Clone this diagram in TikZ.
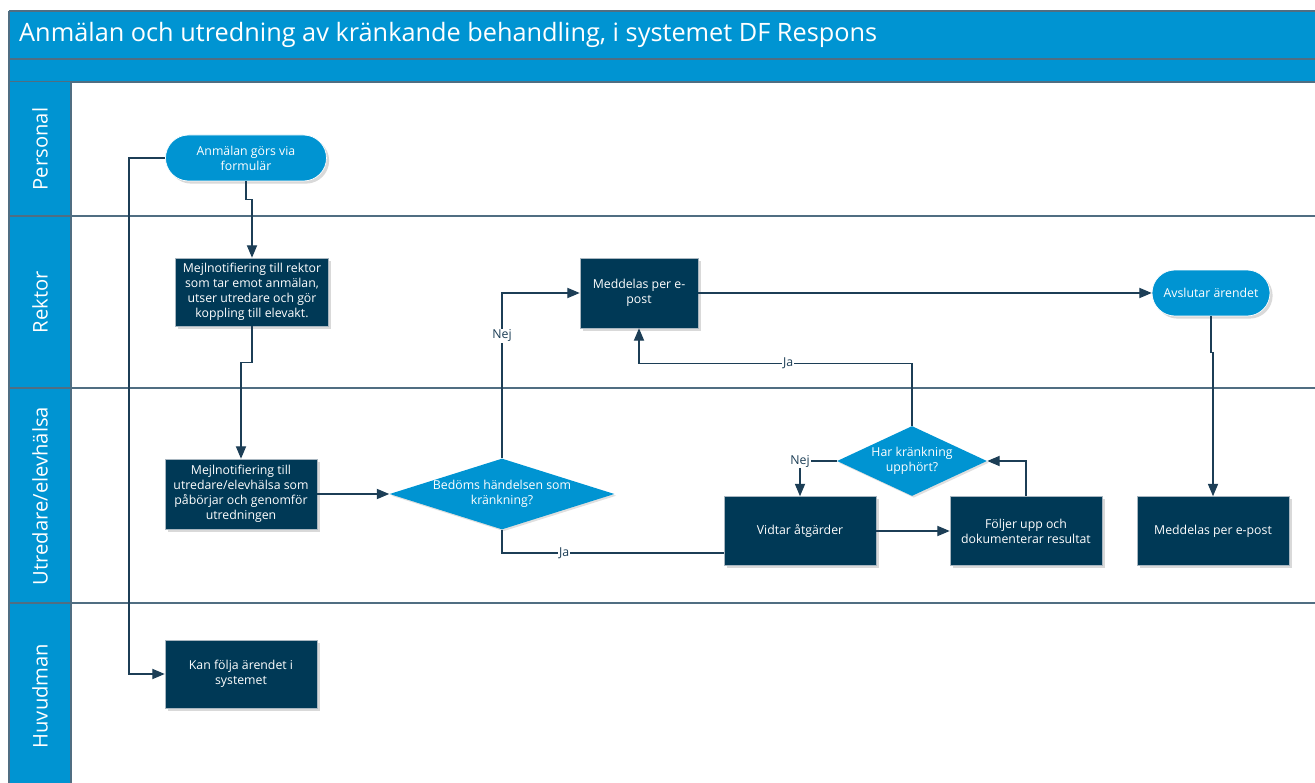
\documentclass[tikz,border=0pt]{standalone}
\usepackage{fontspec}
\setmainfont{Open Sans}
\usepackage{xcolor}
\usepackage{tikz}
\usetikzlibrary{shadows}
\usetikzlibrary{positioning}
\usetikzlibrary{arrows,shapes}
\usetikzlibrary{calc}
\definecolor{laneblue}{RGB}{0,148,210}
\definecolor{boxnavy}{RGB}{0,57,86}
\definecolor{linenavy}{RGB}{28,62,86}
\definecolor{lanegray}{RGB}{80,110,130}
\tikzstyle{procbox}=[rectangle,fill=boxnavy,draw=lanegray!50,text=white,align=center,minimum width=3.04cm,minimum height=1.38cm,inner sep=1pt,font=\fontsize{7}{8.6}\selectfont,drop shadow={opacity=0.3,shadow xshift=1.5pt,shadow yshift=-1.5pt}]
\tikzstyle{terminal}=[rectangle,rounded corners=0.46cm,fill=laneblue,draw=white,text=white,align=center,minimum height=0.92cm,inner sep=1pt,font=\fontsize{7}{8.6}\selectfont,drop shadow={opacity=0.3,shadow xshift=1.5pt,shadow yshift=-1.5pt}]
\tikzstyle{decision}=[diamond,fill=laneblue,text=white,align=center,inner sep=0pt,font=\fontsize{7}{8.6}\selectfont,drop shadow={opacity=0.25,shadow xshift=1pt,shadow yshift=-1pt}]
\tikzstyle{edge} = [draw,linenavy,line width=0.6pt,-triangle 45]
\tikzstyle{plainedge} = [draw,linenavy,line width=0.6pt]
\tikzstyle{weight} = [font=\fontsize{7}{8.6}\selectfont,fill=white,inner sep=0.5pt,text=linenavy]
\tikzstyle{lanelabel} = [rotate=90,text=white,font=\fontsize{11.5}{13}\selectfont]
\tikzstyle{laneline} = [draw,lanegray,line width=0.7pt]

\begin{document}
\begin{tikzpicture}[x=0.02cm,y=-0.02cm]
 \useasboundingbox (0,0) rectangle (1315,783);

 %Header
 \fill[laneblue] (9,11) rectangle (1315,82);
 \path[laneline] (9,11) -- (1315,11);
 \path[laneline] (9,59) -- (1315,59);
 \path[laneline] (9,82) -- (1315,82);
 \node[anchor=west, text=white, font=\fontsize{14.4}{17}\selectfont] (title) at (13,35) {Anmälan och utredning av kränkande behandling, i systemet DF Respons};

 %Lanes
 \fill[laneblue] (9,82) rectangle (71,783);
 \path[laneline] (9,11) -- (9,783);
 \path[laneline] (71,82) -- (71,783);
 \foreach \y in {216,388,603}
   \path[laneline] (9,\y) -- (1315,\y);

 \foreach \y/\name/\label in {149/lpers/{Personal}, 302/lrekt/{Rektor}, 496/lutr/{Utredare/elevhälsa}, 696/lhuv/{Huvudman}}
   \node[lanelabel] (\name) at (40,\y) {\label};

 %Personal
 \node[terminal, minimum width=3.22cm] (start) at (246,158) {Anmälan görs via\\formulär};

 %Rektor
 \node[procbox, minimum width=3.06cm, minimum height=1.36cm] (rknotif) at (252,292) {Mejlnotifiering till rektor\\som tar emot anmälan,\\utser utredare och gör\\koppling till elevakt.};
 \node[procbox, minimum width=2.36cm, minimum height=1.40cm] (medrekt) at (639,293) {Meddelas per e-\\post};
 \node[terminal, minimum width=2.36cm] (avslut) at (1211,293) {Avslutar ärendet};

 %Utredare
 \node[procbox, minimum height=1.40cm] (utnotif) at (241,494) {Mejlnotifiering till\\utredare/elevhälsa som\\påbörjar och genomför\\utredningen};
 \node[decision, shape aspect=3.17, minimum width=4.38cm, minimum height=1.38cm] (bedoms) at (502,494) {Bedöms händelsen som\\kränkning?};
 \node[decision, shape aspect=2.14, minimum width=3.0cm, minimum height=1.40cm] (upphort) at (912,461) {Har kränkning\\upphört?};

 \foreach \x/\y/\name/\label in {800/531/vidtar/{Vidtar åtgärder}, 1026/531/foljer/{Följer upp och\\dokumenterar resultat}, 1213/531/medutr/{Meddelas per e-post}}
   \node[procbox] (\name) at (\x,\y) {\label};

 %Huvudman
 \node[procbox, minimum height=1.36cm] (kanfolja) at (241,674) {Kan följa ärendet i\\systemet};

 %Connectors
 \coordinate (leftrail) at (129,0);
 \path[edge] (start.south) -- ++(0,18) -| (rknotif.north);
 \path[edge] (rknotif.south) -- ++(0,36) -| (utnotif.north);
 \path[edge] (start.west) -- (start.west -| leftrail) |- (kanfolja.west);
 \path[edge] (utnotif.east) -- (bedoms.west);
 \path[edge] (bedoms.north) |- node[weight, pos=0.37] {Nej} (medrekt.west);
 \path[plainedge] (bedoms.south) |- node[weight, pos=0.64] {Ja} ([yshift=-0.44cm]vidtar.west);
 \path[edge] (medrekt.east) -- (avslut.west);
 \path[edge] (avslut.south) -- ++(0,36) -| (medutr.north);
 \path[edge] (vidtar.east) -- (foljer.west);
 \path[edge] (foljer.north) |- (upphort.east);
 \path[edge] (upphort.north) -- ++(0,-62) -| node[weight, pos=0.227] {Ja} (medrekt.south);
 \path[edge] (upphort.west) -| node[weight, pos=0.5] {Nej} (vidtar.north);

\end{tikzpicture}
\end{document}
